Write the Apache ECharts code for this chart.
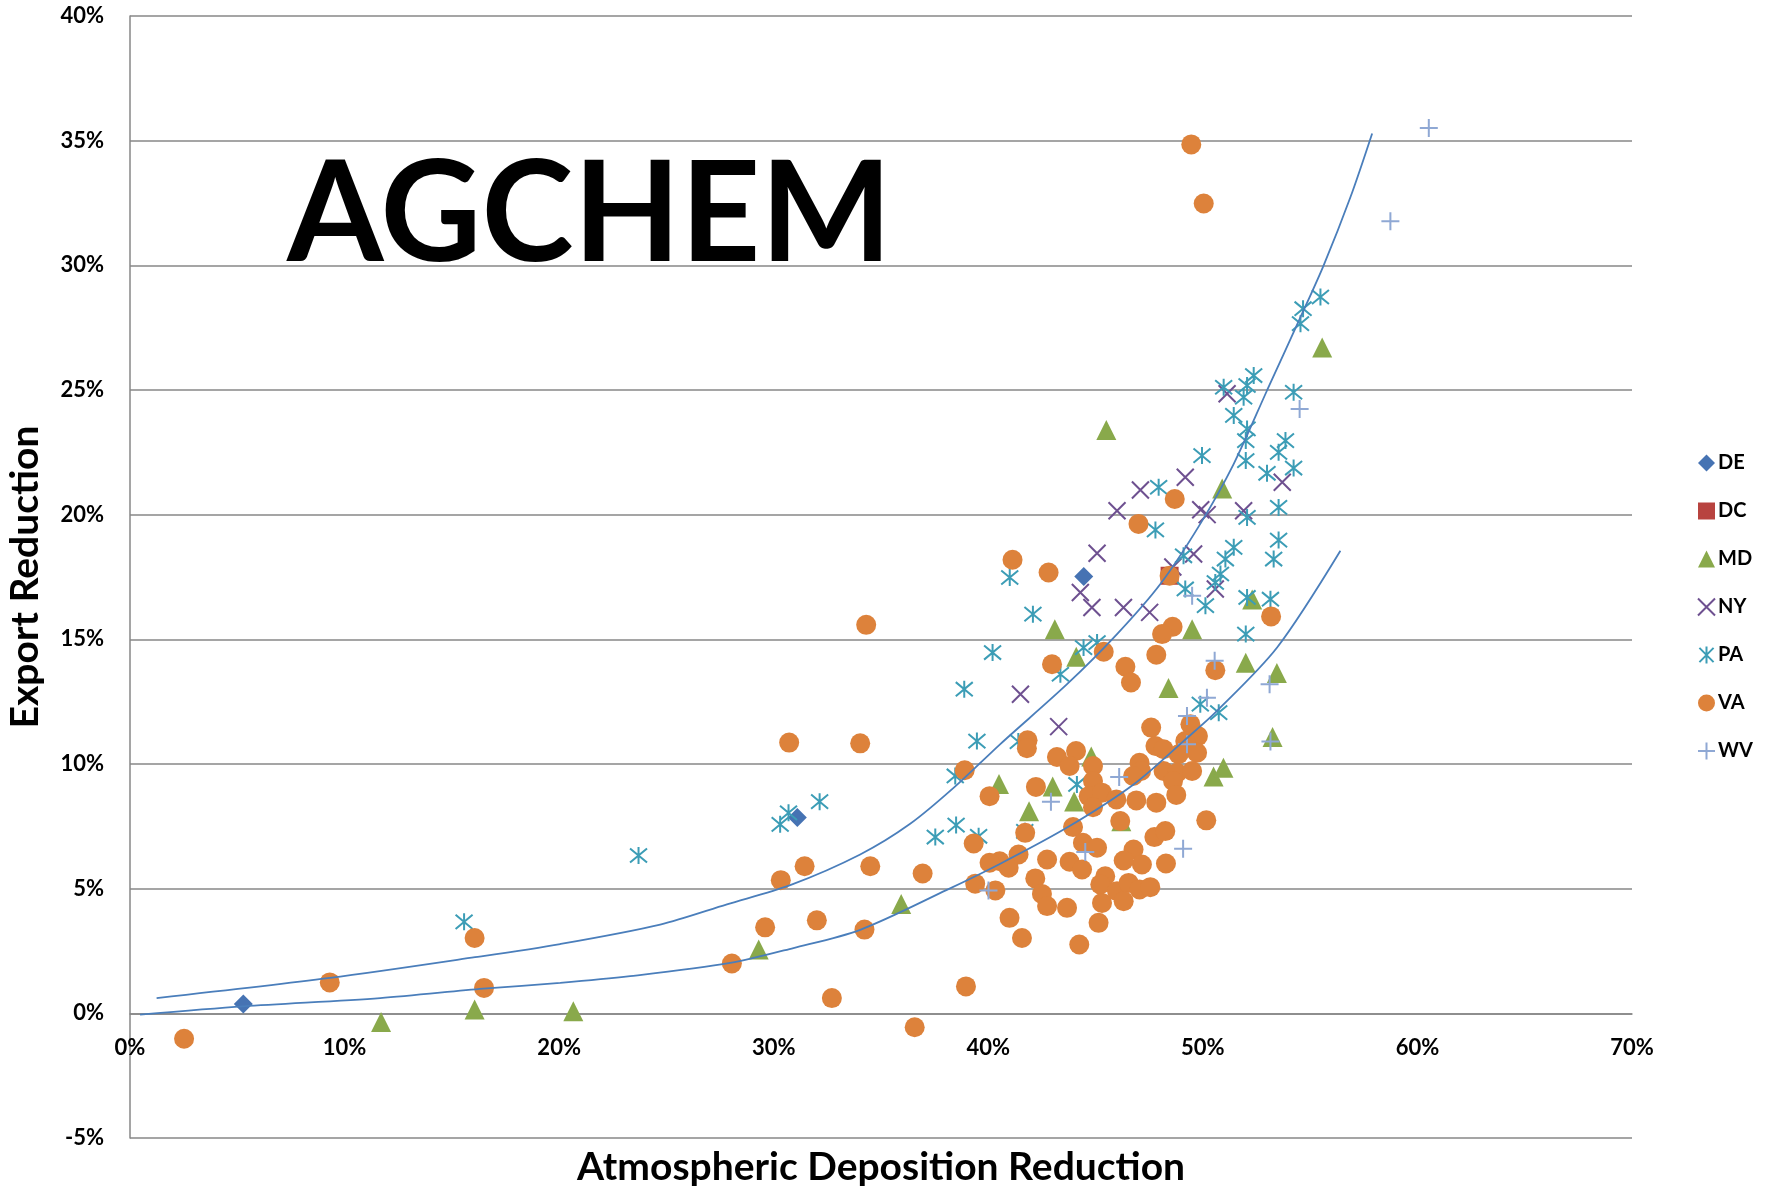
<!DOCTYPE html>
<html>
<head>
<meta charset="utf-8">
<script src="https://cdn.jsdelivr.net/npm/echarts@6/dist/echarts.min.js"></script>
<style>
  html, body { margin: 0; padding: 0; background: #fff; }
  #chart { width: 1779px; height: 1190px; }
</style>
</head>
<body>
<div id="chart"></div>
<script>
// values are in percent: [atmospheric deposition reduction, export reduction]
const yTicks = [-5, 0, 5, 10, 15, 20, 25, 30, 35, 40];
const xTicks = [0, 10, 20, 30, 40, 50, 60, 70];

const deData = [[5.28, 0.37], [31.1, 7.85], [44.45, 17.52]];
const dcData = [[48.45, 17.55]];
const mdData = [
  [11.7, -0.35], [16.06, 0.15], [20.66, 0.08], [29.3, 2.56], [35.94, 4.39], [40.5, 9.2],
  [41.9, 8.1], [43.0, 9.1], [44.0, 8.5], [44.8, 10.3], [46.2, 7.7], [43.1, 15.4],
  [44.1, 14.3], [45.5, 23.4], [48.4, 13.05], [49.5, 15.4], [50.5, 9.5], [50.96, 9.85],
  [50.9, 21.05], [52.0, 14.06], [52.3, 16.6], [53.45, 13.65], [53.25, 11.08], [55.56, 26.7]
];
const nyData = [
  [51.13, 24.85], [47.09, 20.99], [49.18, 21.5], [46.0, 20.16], [49.9, 20.2], [50.2, 20.0],
  [51.9, 20.16], [53.7, 21.3], [45.07, 18.45], [49.57, 18.42], [44.29, 16.88], [44.83, 16.28],
  [46.3, 16.28], [47.52, 16.08], [50.58, 17.02], [48.6, 17.9], [41.5, 12.8], [43.28, 11.5]
];
const paData = [
  [15.57, 3.67], [23.7, 6.33], [30.3, 7.58], [30.69, 8.04], [32.14, 8.49], [37.53, 7.07],
  [38.5, 7.55], [38.46, 9.52], [39.47, 10.92], [38.88, 13.0], [39.55, 7.1], [40.2, 14.47],
  [41.0, 17.48], [42.08, 16.01], [41.4, 10.9], [41.7, 7.3], [43.36, 13.6], [44.13, 9.18],
  [44.44, 14.67], [45.07, 14.87], [47.79, 19.39], [47.94, 21.1], [49.96, 22.37], [49.1, 18.35],
  [51.05, 18.22], [51.44, 18.69], [50.82, 17.62], [50.58, 17.28], [49.18, 17.02], [50.12, 16.35],
  [52.06, 16.68], [53.15, 16.61], [52.0, 15.21], [52.06, 19.89], [53.53, 20.29], [53.53, 18.98],
  [53.3, 18.22], [52.99, 21.66], [54.23, 21.87], [52.0, 22.17], [53.53, 22.5], [53.85, 22.97],
  [52.0, 22.97], [52.06, 23.44], [51.44, 23.98], [50.97, 25.11], [52.06, 25.18], [52.37, 25.58],
  [51.9, 24.71], [54.23, 24.91], [49.88, 12.4], [50.74, 12.06], [55.48, 28.73], [54.67, 28.26],
  [54.55, 27.66]
];
const vaData = [
  [2.52, -1.02], [9.31, 1.24], [16.06, 3.02], [16.5, 1.02],
  [34.31, 15.58], [30.72, 10.86], [34.03, 10.83], [38.9, 9.75], [31.44, 5.9], [30.33, 5.34],
  [34.5, 5.9], [36.94, 5.61], [39.32, 6.81], [39.39, 5.2], [29.6, 3.45], [32.01, 3.73],
  [34.23, 3.36], [28.05, 2.0], [32.71, 0.61], [38.96, 1.08], [36.57, -0.56],
  [49.46, 34.85], [50.04, 32.48],
  [41.13, 18.19], [42.81, 17.68], [48.69, 20.63], [47.0, 19.63], [48.45, 17.55], [53.18, 15.92],
  [48.59, 15.5], [48.1, 15.21], [45.38, 14.5], [42.97, 14.0], [46.39, 13.9], [46.65, 13.27],
  [47.83, 14.38], [50.58, 13.76],
  [47.59, 11.46], [49.42, 11.59], [49.77, 11.12], [49.18, 10.92], [47.79, 10.72], [48.17, 10.59],
  [49.73, 10.45], [48.87, 10.39], [47.05, 10.05], [47.12, 9.72], [46.75, 9.52], [48.17, 9.72],
  [48.8, 9.65], [49.5, 9.72], [48.61, 9.32], [48.76, 8.76], [47.83, 8.45], [46.9, 8.54],
  [50.16, 7.74], [41.83, 10.95], [41.8, 10.63], [43.2, 10.28], [44.09, 10.52], [43.79, 9.92],
  [44.88, 9.92], [40.06, 8.71], [42.22, 9.08], [44.88, 9.32], [44.68, 8.71], [45.3, 8.85],
  [44.88, 8.27], [45.97, 8.58], [46.15, 7.71], [43.95, 7.47], [41.72, 7.24], [44.41, 6.84],
  [45.07, 6.64], [47.74, 7.07], [48.25, 7.31], [46.77, 6.57], [41.41, 6.37], [40.53, 6.1],
  [42.74, 6.17], [43.79, 6.08], [47.16, 5.97], [48.28, 6.01], [44.37, 5.77], [46.31, 6.13],
  [40.95, 5.84], [40.06, 6.04], [40.33, 4.93], [42.19, 5.41], [45.45, 5.5], [45.22, 5.17],
  [46.0, 4.9], [46.54, 5.23], [47.05, 4.97], [47.55, 5.06], [42.5, 4.79], [42.74, 4.3],
  [43.67, 4.23], [45.3, 4.43], [46.31, 4.5], [40.99, 3.83], [41.57, 3.02], [45.14, 3.63],
  [44.24, 2.76]
];
const wvData = [
  [60.53, 35.51], [58.74, 31.77], [54.51, 24.24], [49.5, 16.75], [50.55, 14.14], [53.11, 13.2],
  [50.19, 12.66], [49.26, 11.93], [49.26, 10.79], [53.15, 10.9], [46.1, 9.48], [42.92, 8.49],
  [44.52, 6.47], [49.08, 6.6], [40.01, 4.93]
];

// trend curves
const upperTrend = [
  [1.24, 0.61], [9.32, 1.42], [16.08, 2.25], [20.05, 2.78], [24.71, 3.56], [27.82, 4.37],
  [30.77, 5.14], [34.03, 6.37], [36.36, 7.6], [38.46, 9.1], [40.56, 10.8], [43.67, 13.2],
  [46.0, 15.21], [48.02, 17.22], [49.88, 19.63], [51.44, 22.04], [52.99, 24.98], [54.55, 27.92],
  [55.63, 30.0], [56.88, 32.74], [57.89, 35.29]
];
const lowerTrend = [
  [0.47, -0.05], [5.28, 0.28], [11.66, 0.61], [16.47, 0.99], [20.05, 1.22], [23.31, 1.49],
  [27.97, 2.02], [30.92, 2.62], [34.03, 3.35], [38.07, 4.95], [40.56, 6.0], [43.67, 7.45],
  [46.77, 9.18], [49.1, 10.92], [50.66, 12.13], [53.46, 14.67], [56.41, 18.55]
];

const FONT = "Lato, 'Open Sans', sans-serif";
const X_MARK = "path://M0,0L10,10M10,0L0,10";
const STAR_MARK = "path://M0,0L10,10M10,0L0,10M5,-1L5,11";
const PLUS_MARK = "path://M5,0L5,10M0,5L10,5";

const CHART_H = 1190;
const GRID_TOP = 16;
const GRID_BOTTOM = 52;
const yMin = yTicks[0];
const yMax = yTicks[yTicks.length - 1];
// x axis crosses at 0%, not at the bottom of the plot
const xAxisShift = -(CHART_H - GRID_TOP - GRID_BOTTOM) * (0 - yMin) / (yMax - yMin);

const chart = echarts.init(document.getElementById("chart"));

function pointSeries(name, data, symbol, size, color, stroke) {
  return {
    name: name,
    type: "scatter",
    data: data,
    symbol: symbol,
    symbolSize: size,
    itemStyle: stroke
      ? { color: color, borderColor: color, borderWidth: 2, opacity: 1 }
      : { color: color, opacity: 1 },
    emphasis: { disabled: true },
    z: 3
  };
}

function trendSeries(data) {
  return {
    type: "line",
    data: data,
    smooth: 0.3,
    showSymbol: false,
    silent: true,
    lineStyle: { color: "#4A7EBB", width: 1.8 },
    z: 4
  };
}

const option = {
  animation: false,
  backgroundColor: "#fff",
  title: {
    text: "AGCHEM",
    left: 282,
    top: 142,
    textStyle: { fontFamily: FONT, fontWeight: "bold", fontSize: 139, color: "#000" }
  },
  grid: { left: 130, right: 147, top: GRID_TOP, bottom: GRID_BOTTOM, outerBoundsMode: "none", containLabel: false },
  legend: {
    orient: "vertical",
    left: 1692,
    top: 448,
    itemWidth: 17,
    itemHeight: 17,
    itemGap: 28,
    data: ["DE", "DC", "MD", "NY", "PA", "VA", "WV"],
    textStyle: { fontFamily: FONT, fontWeight: "bold", fontSize: 20, color: "#000", padding: [0, 0, 0, -2] }
  },
  xAxis: {
    type: "value",
    min: xTicks[0],
    max: xTicks[xTicks.length - 1],
    interval: 10,
    offset: xAxisShift,
    name: "Atmospheric Deposition Reduction",
    nameLocation: "middle",
    nameGap: 135,
    nameTextStyle: { fontFamily: FONT, fontWeight: "bold", fontSize: 39, color: "#000" },
    axisLine: { show: true, onZero: false, lineStyle: { color: "#878787", width: 1.5 } },
    axisTick: { show: false },
    splitLine: { show: false },
    axisLabel: {
      margin: 24,
      fontFamily: FONT, fontWeight: "bold", fontSize: 22, color: "#000",
      formatter: (v) => v + "%"
    }
  },
  yAxis: {
    type: "value",
    min: yMin,
    max: yMax,
    interval: 5,
    name: "Export Reduction",
    nameLocation: "middle",
    nameRotate: 90,
    nameGap: 85,
    nameTextStyle: { fontFamily: FONT, fontWeight: "bold", fontSize: 39, color: "#000" },
    axisLine: { show: true, onZero: false, lineStyle: { color: "#878787", width: 1.5 } },
    axisTick: { show: false },
    splitLine: { show: true, lineStyle: { color: "#878787", width: 1.5 } },
    axisLabel: {
      margin: 26,
      fontFamily: FONT, fontWeight: "bold", fontSize: 22, color: "#000",
      formatter: (v) => v + "%"
    }
  },
  series: [
    pointSeries("DE", deData, "diamond", 19, "#4673B3", false),
    pointSeries("DC", dcData, "rect", 18, "#B8433F", false),
    pointSeries("MD", mdData, "triangle", 20, "#89A94B", false),
    pointSeries("NY", nyData, X_MARK, 17, "#6E5090", true),
    pointSeries("PA", paData, STAR_MARK, 17, "#3C9DB6", true),
    pointSeries("VA", vaData, "circle", 20, "#DD823B", false),
    pointSeries("WV", wvData, PLUS_MARK, 18, "#8FA8D4", true),
    trendSeries(upperTrend),
    trendSeries(lowerTrend)
  ]
};

chart.setOption(option);
</script>
</body>
</html>
